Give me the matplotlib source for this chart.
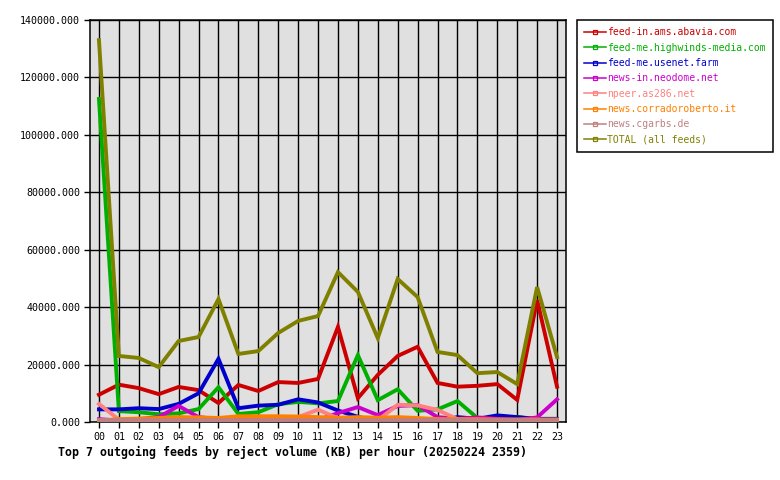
import matplotlib
matplotlib.use("Agg")
import matplotlib.pyplot as plt
from matplotlib.lines import Line2D

hours = ["%02d" % h for h in range(24)]

feed_in_ams_abavia = [9500, 13000, 11800, 9700, 12200, 11100, 6600, 12900, 10800, 13900, 13600, 15000,
                      33100, 8300, 16400, 23000, 26200, 13600, 12300, 12600, 13200, 7700, 42500, 12300]
feed_me_highwinds = [112500, 3800, 3400, 2700, 3000, 4500, 12100, 2800, 3400, 6200, 7000, 6500,
                     7300, 23300, 7600, 11400, 3900, 4400, 7300, 1400, 1000, 1800, 700, 500]
feed_me_usenet = [4400, 4400, 4800, 4500, 6300, 10000, 22000, 4800, 5700, 6000, 7900, 6800,
                  4000, 1800, 200, 200, 200, 200, 1700, 1100, 2300, 1700, 1100, 1100]
news_in_neodome = [1000, 500, 1000, 1700, 5600, 1700, 1000, 1000, 300, 300, 300, 700,
                   3100, 5200, 2400, 5600, 5900, 1700, 1100, 1600, 1100, 700, 1600, 7900]
npeer_as286 = [6300, 800, 500, 500, 500, 500, 500, 500, 500, 600, 1700, 4300,
               1300, 600, 600, 6000, 5800, 4200, 1000, 500, 500, 500, 500, 500]
news_corradoroberto = [500, 1000, 1200, 1400, 1700, 1600, 1400, 2000, 2000, 2000, 1900, 1700,
                       1500, 1700, 1500, 1700, 1400, 1000, 1000, 1000, 900, 900, 900, 900]
news_cgarbs = [700, 700, 700, 700, 700, 700, 700, 700, 700, 700, 700, 700,
               700, 700, 700, 700, 700, 700, 700, 700, 700, 700, 700, 700]
total_all = [133000, 23000, 22300, 19100, 28200, 29600, 42800, 23700, 24700, 31000, 35200, 36900,
             52200, 45300, 29200, 49800, 43500, 24400, 23300, 17000, 17400, 13200, 47000, 22600]

series = [
    ("feed-in.ams.abavia.com", feed_in_ams_abavia, "#cc0000"),
    ("feed-me.highwinds-media.com", feed_me_highwinds, "#00b000"),
    ("feed-me.usenet.farm", feed_me_usenet, "#0000cc"),
    ("news-in.neodome.net", news_in_neodome, "#cc00cc"),
    ("npeer.as286.net", npeer_as286, "#ff8080"),
    ("news.corradoroberto.it", news_corradoroberto, "#ff8000"),
    ("news.cgarbs.de", news_cgarbs, "#c08080"),
    ("TOTAL (all feeds)", total_all, "#808000"),
]

yticks = list(range(0, 140001, 20000))
title = "Top 7 outgoing feeds by reject volume (KB) per hour (20250224 2359)"

plt.rcParams['font.family'] = ['DejaVu Sans Mono']

fig = plt.figure(figsize=(7.8, 4.8), dpi=100)
ax = fig.add_axes([90/780, 58/480, 476/780, 402/480])
ax.set_facecolor("#e0e0e0")

x = list(range(len(hours)))
handles = []
for name, vals, col in series:
    ax.plot(x, vals, color=col, lw=2.8, solid_joinstyle='miter', zorder=3)
    handles.append(Line2D([0], [0], color=col, lw=1.1, marker='s', markersize=2.8,
                          markerfacecolor='none', markeredgecolor=col, markeredgewidth=0.9))

ax.set_xlim(-0.45, 23.45)
ax.set_ylim(0, 140000)
ax.set_xticks(x)
ax.set_xticklabels(hours)
ax.set_yticks(yticks)
ax.set_yticklabels(["%.3f" % v for v in yticks])
ax.grid(True, color="black", lw=1.0, zorder=1)
ax.set_axisbelow(True)
for s in ax.spines.values():
    s.set_color("black")
    s.set_linewidth(1.1)
ax.tick_params(axis='both', labelsize=7.2, length=4, width=1, color='black', pad=3)

leg = fig.legend(handles, [s[0] for s in series], loc='upper left',
                 bbox_to_anchor=(577/780, 1 - 20/480), fontsize=7.0,
                 frameon=True, fancybox=False, edgecolor='black', framealpha=1,
                 handlelength=2.2, handletextpad=0.1, labelspacing=0.55,
                 borderpad=0.75, borderaxespad=0)
leg.get_frame().set_linewidth(1.1)
for t, (_, _, col) in zip(leg.get_texts(), series):
    t.set_color(col)

fig.text(58/780, 1 - 452/480, title, fontsize=8.4, fontweight='bold', ha='left', va='center')

fig.savefig("out.png", dpi=100)
